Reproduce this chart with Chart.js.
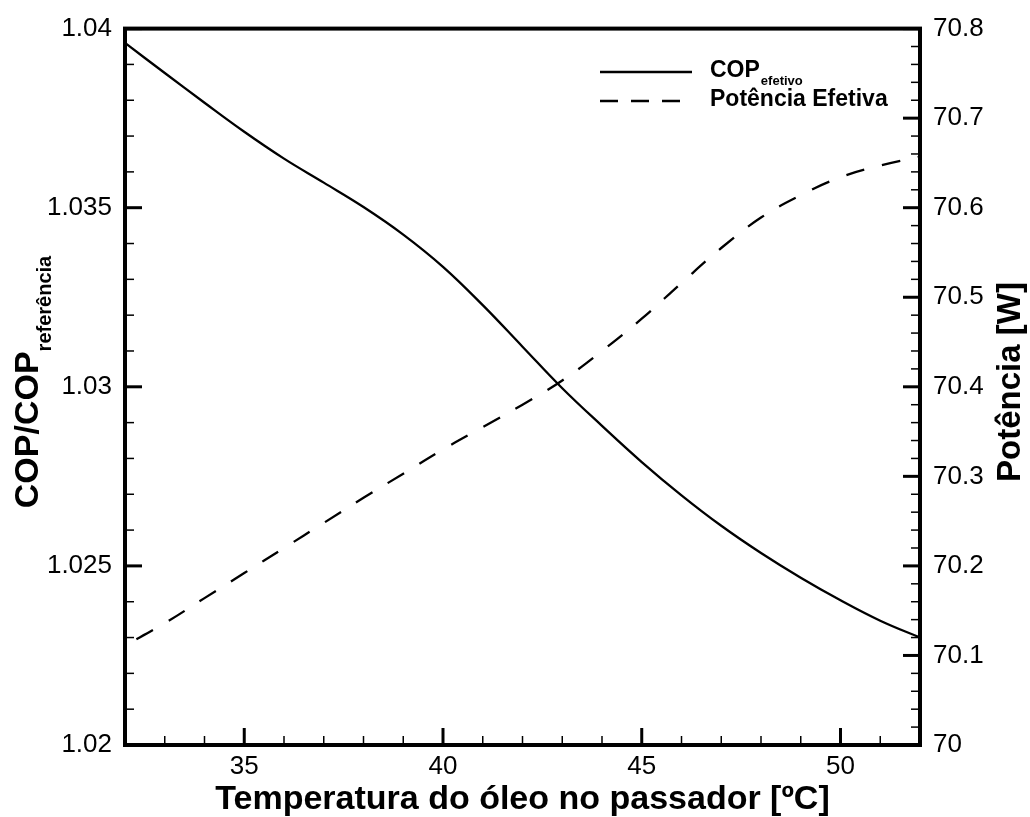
<!DOCTYPE html>
<html>
<head>
<meta charset="utf-8">
<script src="https://cdn.jsdelivr.net/npm/chart.js@4.4.1/dist/chart.umd.min.js"></script>
<style>
    html, body { margin: 0; padding: 0; background: #fff; }
    canvas { display: block; }
</style>
</head>
<body>
<canvas id="chart" width="1030" height="817"></canvas>
<script>
// values
const temperatures = [32, 33, 34, 35, 36, 37, 38, 39, 40, 41, 42, 43, 44, 45, 46, 47, 48, 49, 50, 51, 52];
const copRatio = [1.0396, 1.03876, 1.03793, 1.03712, 1.03637, 1.0357, 1.03502, 1.03425, 1.03335, 1.03228,
    1.03112, 1.02996, 1.02891, 1.0279, 1.02697, 1.02612, 1.02536, 1.02467, 1.02404, 1.02347, 1.0230];
const power = [70.111, 70.136, 70.164, 70.192, 70.220, 70.248, 70.276, 70.303, 70.330, 70.355,
    70.380, 70.407, 70.440, 70.476, 70.516, 70.555, 70.589, 70.614, 70.634, 70.647, 70.657];

const xTicks = [35, 40, 45, 50];
const copTicks = [1.02, 1.025, 1.03, 1.035, 1.04];
const powerTicks = [70, 70.1, 70.2, 70.3, 70.4, 70.5, 70.6, 70.7, 70.8];
const xMinorStep = 1;
const copMinorStep = 0.001;
const powerMinorStep = 0.02;

const FONT = "'Liberation Sans', Arial, Helvetica, sans-serif";

// inward ticks, frame, titles with subscripts and the legend
const decorations = {
    id: 'decorations',
    afterDraw(chart) {
        const { ctx, chartArea: a, scales } = chart;
        ctx.save();
        ctx.strokeStyle = '#000';
        ctx.fillStyle = '#000';
        ctx.lineCap = 'butt';

        function seg(x1, y1, x2, y2, w) {
            ctx.lineWidth = w;
            ctx.beginPath();
            ctx.moveTo(x1, y1);
            ctx.lineTo(x2, y2);
            ctx.stroke();
        }
        function minors(scale, step, majors) {
            const out = [];
            for (let v = scale.min + step; v < scale.max - step / 2; v += step) {
                if (!majors.some(m => Math.abs(m - v) < step / 2)) out.push(v);
            }
            return out;
        }

        // x axis
        minors(scales.x, xMinorStep, xTicks).forEach(v => {
            const px = scales.x.getPixelForValue(v);
            seg(px, a.bottom, px, a.bottom - 9, 1.5);
        });
        xTicks.forEach(v => {
            const px = scales.x.getPixelForValue(v);
            seg(px, a.bottom, px, a.bottom - 17, 3);
        });
        // left axis
        minors(scales.y, copMinorStep, copTicks).forEach(v => {
            const py = scales.y.getPixelForValue(v);
            seg(a.left, py, a.left + 9, py, 1.5);
        });
        copTicks.forEach(v => {
            const py = scales.y.getPixelForValue(v);
            seg(a.left, py, a.left + 17, py, 3);
        });
        // right axis
        minors(scales.y2, powerMinorStep, powerTicks).forEach(v => {
            const py = scales.y2.getPixelForValue(v);
            seg(a.right, py, a.right - 9, py, 1.5);
        });
        powerTicks.forEach(v => {
            const py = scales.y2.getPixelForValue(v);
            seg(a.right, py, a.right - 17, py, 3);
        });

        // frame
        ctx.lineWidth = 4;
        ctx.strokeRect(a.left, a.top, a.right - a.left, a.bottom - a.top);

        // x title
        ctx.font = 'bold 34px ' + FONT;
        ctx.textAlign = 'center';
        ctx.textBaseline = 'alphabetic';
        ctx.fillText('Temperatura do óleo no passador [ºC]', (a.left + a.right) / 2, 809);

        // left title with subscript
        ctx.save();
        ctx.translate(38, 382);
        ctx.rotate(-Math.PI / 2);
        ctx.textAlign = 'left';
        ctx.font = 'bold 34px ' + FONT;
        const main = 'COP/COP';
        const w1 = ctx.measureText(main).width;
        ctx.font = 'bold 20px ' + FONT;
        const sub = 'referência';
        const w2 = ctx.measureText(sub).width;
        const start = -(w1 + w2) / 2;
        ctx.font = 'bold 34px ' + FONT;
        ctx.fillText(main, start, 0);
        ctx.font = 'bold 20px ' + FONT;
        ctx.fillText(sub, start + w1, 13);
        ctx.restore();

        // right title
        ctx.save();
        ctx.translate(1020, 382);
        ctx.rotate(-Math.PI / 2);
        ctx.textAlign = 'center';
        ctx.font = 'bold 33px ' + FONT;
        ctx.fillText('Potência [W]', 0, 0);
        ctx.restore();

        // legend
        seg(600, 72, 692, 72, 2.3);
        ctx.setLineDash([18, 13]);
        seg(600, 101, 680, 101, 2.3);
        ctx.setLineDash([]);
        ctx.textAlign = 'left';
        ctx.font = 'bold 23px ' + FONT;
        ctx.fillText('COP', 710, 77);
        const wc = ctx.measureText('COP').width;
        ctx.font = 'bold 13px ' + FONT;
        ctx.fillText('efetivo', 710 + wc + 1, 85);
        ctx.font = 'bold 23px ' + FONT;
        ctx.fillText('Potência Efetiva', 710, 105.5);

        ctx.restore();
    }
};

const ctx = document.getElementById('chart').getContext('2d');
new Chart(ctx, {
    type: 'line',
    data: {
        datasets: [
            {
                label: 'COP efetivo',
                data: temperatures.map((t, i) => ({ x: t, y: copRatio[i] })),
                yAxisID: 'y',
                borderColor: '#000',
                borderWidth: 2.3,
                pointRadius: 0,
                tension: 0.4,
                fill: false
            },
            {
                label: 'Potência Efetiva',
                data: temperatures.map((t, i) => ({ x: t, y: power[i] })),
                yAxisID: 'y2',
                borderColor: '#000',
                borderWidth: 2.3,
                borderDash: [19, 18],
                borderDashOffset: 24,
                pointRadius: 0,
                tension: 0.4,
                fill: false
            }
        ]
    },
    options: {
        responsive: false,
        animation: false,
        devicePixelRatio: 1,
        layout: { padding: { top: 17, left: 0, right: 0, bottom: 0 } },
        plugins: {
            legend: { display: false },
            tooltip: { enabled: false }
        },
        scales: {
            x: {
                type: 'linear',
                min: 32,
                max: 52,
                afterBuildTicks: s => { s.ticks = xTicks.map(v => ({ value: v })); },
                afterFit: s => { s.height = 72; },
                grid: { display: false, drawTicks: false },
                border: { display: false },
                ticks: {
                    padding: 6,
                    color: '#000',
                    font: { family: FONT, size: 26 },
                    maxRotation: 0,
                    callback: v => String(v)
                }
            },
            y: {
                position: 'left',
                min: 1.02,
                max: 1.04,
                afterBuildTicks: s => { s.ticks = copTicks.map(v => ({ value: v })); },
                afterFit: s => { s.width = 125; },
                grid: { display: false, drawTicks: false },
                border: { display: false },
                ticks: {
                    padding: 13,
                    color: '#000',
                    font: { family: FONT, size: 26 },
                    callback: v => String(+v.toFixed(3))
                }
            },
            y2: {
                position: 'right',
                min: 70,
                max: 70.8,
                afterBuildTicks: s => { s.ticks = powerTicks.map(v => ({ value: v })); },
                afterFit: s => { s.width = 110; },
                grid: { display: false, drawTicks: false },
                border: { display: false },
                ticks: {
                    padding: 13,
                    color: '#000',
                    font: { family: FONT, size: 26 },
                    callback: v => String(+v.toFixed(1))
                }
            }
        }
    },
    plugins: [decorations]
});
</script>
</body>
</html>
